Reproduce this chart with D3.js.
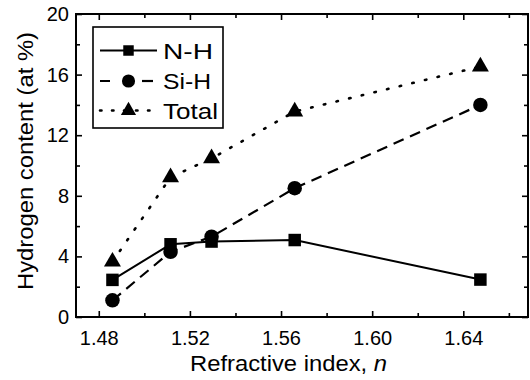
<!DOCTYPE html>
<html><head><meta charset="utf-8">
<script src="https://cdn.jsdelivr.net/npm/d3@7"></script>
<style>
body{margin:0;background:#fff}
text{font-family:"Liberation Sans",Arial,Helvetica,sans-serif;fill:#000}
</style>
</head><body><svg id="c" width="530" height="380"></svg>
<script>
const refractiveIndex = [1.486, 1.5115, 1.5295, 1.566, 1.6475];
const nhContent = [2.45, 4.8, 4.98, 5.08, 2.47];
const sihContent = [1.1, 4.3, 5.3, 8.5, 14.0];
const totalContent = [3.65, 9.22, 10.47, 13.56, 16.53];
const seriesNames = ["N-H", "Si-H", "Total"];
const xTicks = [1.48, 1.52, 1.56, 1.60, 1.64];
const xMinorTicks = [1.50, 1.54, 1.58, 1.62, 1.66];
const yTicks = [0, 4, 8, 12, 16, 20];
const yMinorTicks = [2, 6, 10, 14, 18];
const xTitle = "Refractive index, ";
const xTitleItalic = "n";
const yTitle = "Hydrogen content (at %)";

const svg = d3.select("#c");
const L = 76, R = 528, T = 14, B = 317;
const x = d3.scaleLinear().domain([1.47, 1.6684]).range([L, R]);
const y = d3.scaleLinear().domain([0, 20]).range([B, T]);

function styleAxis(g) {
  g.select(".domain").remove();
  g.selectAll(".tick line").attr("stroke", "#000").attr("stroke-width", 1.6);
  g.selectAll(".tick text").style("font-family", '"Liberation Sans",Arial,sans-serif').attr("fill", "#000");
}
// bottom
svg.append("g").attr("transform", `translate(0,${B})`)
  .call(d3.axisBottom(x).tickValues(xTicks).tickSize(-6).tickPadding(14).tickFormat(d3.format(".2f")))
  .call(styleAxis).selectAll("text").style("font-size", "20px");
svg.append("g").attr("transform", `translate(0,${B})`)
  .call(d3.axisBottom(x).tickValues(xMinorTicks).tickSize(-4).tickFormat(""))
  .call(styleAxis);
// top
svg.append("g").attr("transform", `translate(0,${T})`)
  .call(d3.axisTop(x).tickValues(xTicks).tickSize(-6).tickFormat("")).call(styleAxis);
svg.append("g").attr("transform", `translate(0,${T})`)
  .call(d3.axisTop(x).tickValues(xMinorTicks).tickSize(-4).tickFormat("")).call(styleAxis);
// left
svg.append("g").attr("transform", `translate(${L},0)`)
  .call(d3.axisLeft(y).tickValues(yTicks).tickSize(-6).tickPadding(7).tickFormat(d3.format("d")))
  .call(styleAxis).selectAll("text").style("font-size", "20px");
svg.append("g").attr("transform", `translate(${L},0)`)
  .call(d3.axisLeft(y).tickValues(yMinorTicks).tickSize(-4).tickFormat("")).call(styleAxis);
// right
svg.append("g").attr("transform", `translate(${R},0)`)
  .call(d3.axisRight(y).tickValues(yTicks).tickSize(-6).tickFormat("")).call(styleAxis);
svg.append("g").attr("transform", `translate(${R},0)`)
  .call(d3.axisRight(y).tickValues(yMinorTicks).tickSize(-4).tickFormat("")).call(styleAxis);

// frame
svg.append("rect").attr("x", L).attr("y", T).attr("width", R - L).attr("height", B - T)
  .attr("fill", "none").attr("stroke", "#000").attr("stroke-width", 2);

const styles = [
  {dash: null, w: 2, cap: "butt", sym: d3.symbolSquare, size: 156, lsize: 110},
  {dash: "11,7", w: 2.2, cap: "butt", sym: d3.symbolCircle, size: 165, lsize: 135},
  {dash: "1.5,11.5", w: 2.6, cap: "round", sym: d3.symbolTriangle, size: 125, lsize: 100}
];
const seriesValues = [nhContent, sihContent, totalContent];
const line = d3.line().x(d => x(d[0])).y(d => y(d[1]));

[2, 1, 0].forEach(i => {
  const pts = refractiveIndex.map((v, k) => [v, seriesValues[i][k]]);
  const s = styles[i];
  svg.append("path").attr("d", line(pts)).attr("fill", "none").attr("stroke", "#000")
    .attr("stroke-width", s.w).attr("stroke-dasharray", s.dash).attr("stroke-linecap", s.cap);
});
[2, 1, 0].forEach(i => {
  const pts = refractiveIndex.map((v, k) => [v, seriesValues[i][k]]);
  const s = styles[i];
  svg.append("g").selectAll("path").data(pts).join("path")
    .attr("d", d3.symbol().type(s.sym).size(s.size))
    .attr("transform", d => `translate(${x(d[0])},${y(d[1])})`)
    .attr("fill", "#000");
});

// legend
const lg = svg.append("g");
lg.append("rect").attr("x", 93).attr("y", 27).attr("width", 130).attr("height", 101)
  .attr("fill", "#fff").attr("stroke", "#000").attr("stroke-width", 1.6);
const ly = [50.5, 81, 110.5];
const legendTextLen = [50, 48, 55];
seriesNames.forEach((name, i) => {
  const s = styles[i];
  lg.append("line").attr("x1", 100).attr("x2", 157).attr("y1", ly[i]).attr("y2", ly[i])
    .attr("stroke", "#000").attr("stroke-width", s.w)
    .attr("stroke-dasharray", i === 1 ? "10,33" : (i === 2 ? "1.5,10.5" : null))
    .attr("stroke-linecap", s.cap);
  if (i === 1) {
    lg.append("line").attr("x1", 142).attr("x2", 153).attr("y1", ly[i]).attr("y2", ly[i])
      .attr("stroke", "#000").attr("stroke-width", s.w);
  }
  lg.append("path").attr("d", d3.symbol().type(s.sym).size(s.lsize)())
    .attr("transform", `translate(128.5,${ly[i]})`).attr("fill", "#000");
  lg.append("text").attr("x", 163).attr("y", ly[i] + 8).style("font-size", "22px")
    .attr("textLength", legendTextLen[i]).attr("lengthAdjust", "spacingAndGlyphs").text(name);
});

// titles
const xt = svg.append("text").attr("x", 288.5).attr("y", 371).attr("text-anchor", "middle")
  .style("font-size", "22px").attr("textLength", 197).attr("lengthAdjust", "spacingAndGlyphs");
xt.append("tspan").text(xTitle);
xt.append("tspan").style("font-style", "italic").text(xTitleItalic);
svg.append("text").attr("transform", "translate(33,161) rotate(-90)").attr("text-anchor", "middle")
  .style("font-size", "22px").attr("textLength", 258).attr("lengthAdjust", "spacingAndGlyphs").text(yTitle);
</script>
</body></html>
